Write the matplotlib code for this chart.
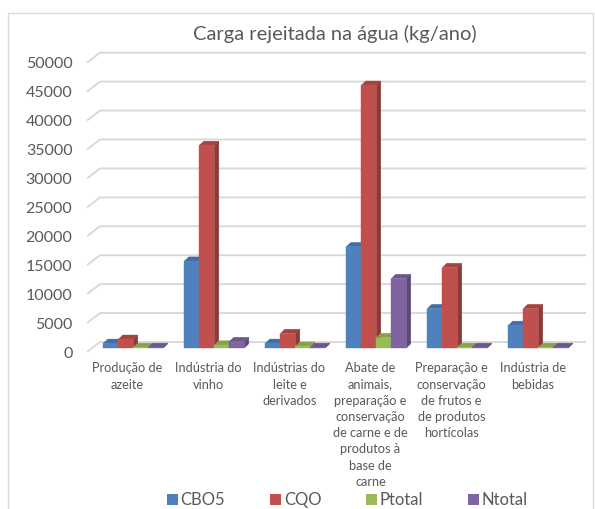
import matplotlib
matplotlib.use('Agg')
import matplotlib.pyplot as plt
from matplotlib.patches import Polygon, Rectangle, Patch

# ---------------- data ----------------
categories = [
    "Produção de\nazeite",
    "Indústria do\nvinho",
    "Indústrias do\nleite e\nderivados",
    "Abate de\nanimais,\npreparação e\nconservação\nde carne e de\nprodutos à\nbase de\ncarne",
    "Preparação e\nconservação\nde frutos e\nde produtos\nhortícolas",
    "Indústria de\nbebidas",
]
series_names = ["CBO5", "CQO", "Ptotal", "Ntotal"]
cbo5 = [800, 15000, 800, 17500, 6800, 3900]
cqo = [1500, 35000, 2500, 45400, 13900, 6800]
ptotal = [100, 500, 300, 1800, 100, 100]
ntotal = [100, 1100, 100, 12000, 100, 100]
y_ticks = list(range(0, 50001, 5000))
title = "Carga rejeitada na água (kg/ano)"

series = [cbo5, cqo, ptotal, ntotal]
front_colors = ["#4F81BD", "#C0504D", "#9BBB59", "#8064A2"]
side_colors = ["#3A5F8C", "#8B3A38", "#728A41", "#5D4977"]
top_colors = ["#416DA3", "#A5433F", "#86A24B", "#6D558D"]

plt.rcParams['font.family'] = ['Lato', 'DejaVu Sans']
TXT = "#595959"

W, H = 595, 509
fig = plt.figure(figsize=(W / 100, H / 100), dpi=100)

ax_l, ax_r, ax_t, ax_b = 87, 573, 62.7, 352
ax = fig.add_axes([ax_l / W, 1 - ax_b / H, (ax_r - ax_l) / W, (ax_b - ax_t) / H])
ax.set_xlim(-0.5, 5.5)
ax.set_ylim(0, 50000)
xpx = (ax_r - ax_l) / 6.0
ypx = (ax_b - ax_t) / 50000.0


def dxu(px):
    return px / xpx


def dyu(px):
    return px / ypx


# 3D-like gridlines (front diagonal + back wall line)
gdx, gdy = dxu(13), dyu(10)
for v in y_ticks:
    ax.plot([-0.5, -0.5 + gdx, 5.5 + gdx], [v, v + gdy, v + gdy],
            color="#D9D9D9", lw=1.4, clip_on=False, zorder=1,
            solid_capstyle='butt')

# bars
bw = dxu(15)
first_off = dxu(103.3 - 127.5)
base = dyu(4)
ddx, ddy = dxu(4.5), dyu(4.3)
for j, vals in enumerate(series):
    xs = [i + first_off + j * bw for i in range(len(categories))]
    for x0, v in zip(xs, vals):
        side = Polygon([(x0 + bw, base), (x0 + bw + ddx, base + ddy),
                        (x0 + bw + ddx, base + v + ddy), (x0 + bw, base + v)],
                       closed=True, fc=side_colors[j], ec=side_colors[j],
                       lw=0.3, zorder=2)
        top = Polygon([(x0, base + v), (x0 + ddx, base + v + ddy),
                       (x0 + bw + ddx, base + v + ddy), (x0 + bw, base + v)],
                      closed=True, fc=top_colors[j], ec=top_colors[j],
                      lw=0.3, zorder=2)
        ax.add_patch(side)
        ax.add_patch(top)
    ax.bar(xs, vals, width=bw, bottom=base, align='edge',
           color=front_colors[j], edgecolor=front_colors[j], lw=0.3,
           zorder=3, label=series_names[j])

for s in ax.spines.values():
    s.set_visible(False)
ax.set_yticks(y_ticks)
ax.set_yticklabels([str(t) for t in y_ticks])
ax.tick_params(axis='y', length=0, pad=10.5, labelsize=11.5, labelcolor=TXT)
ax.set_xticks(range(len(categories)))
ax.set_xticklabels(categories, fontsize=9.2, color=TXT, linespacing=1.42)
ax.tick_params(axis='x', length=0, pad=7.5)

fig.text(335 / W, 1 - 34 / H, title, ha='center', va='center',
         fontsize=14.5, color=TXT)

handles = [Patch(facecolor=c, edgecolor='none') for c in front_colors]
leg = fig.legend(handles, series_names, loc='center',
                 bbox_to_anchor=(347.6 / W, 1 - 500 / H), ncol=4,
                 frameon=False, fontsize=12, handlelength=0.64,
                 handleheight=0.62, handletextpad=0.17, columnspacing=2.7,
                 borderpad=0, borderaxespad=0)
for t in leg.get_texts():
    t.set_color(TXT)

fig.add_artist(Rectangle((8 / W, -0.01), (593 - 8) / W, (509 - 13) / H + 0.01,
                         transform=fig.transFigure, fill=False,
                         ec="#D9D9D9", lw=1))

fig.savefig("out.png", dpi=100)
